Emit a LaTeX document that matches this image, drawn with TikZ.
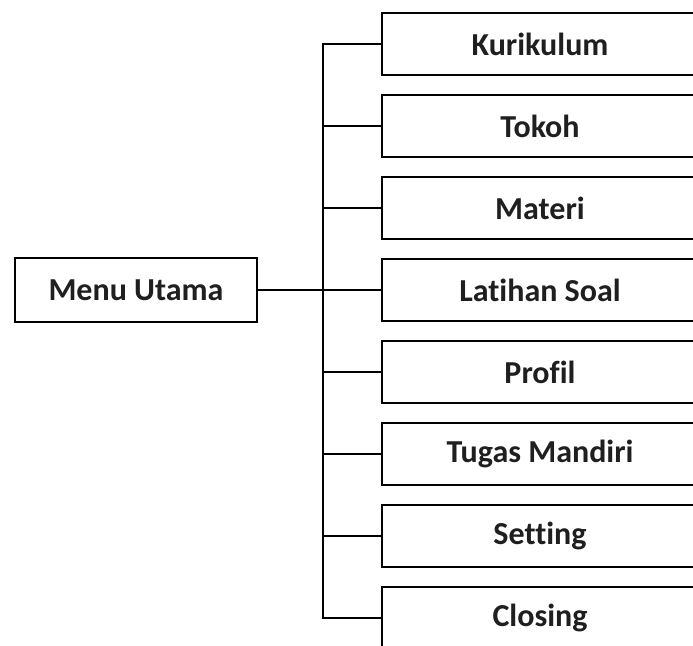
\documentclass[tikz,border=0pt]{standalone}
\usepackage{fontspec}
\setmainfont[Ligatures=NoCommon]{Carlito}
\tikzset{
  menubox/.style={draw, line width=1.8pt, minimum width=316pt, minimum height=62pt,
    inner sep=0pt, font=\fontsize{32}{38}\selectfont\bfseries, text=black!88},
  link/.style={line width=1.8pt}
}
\begin{document}
\begin{tikzpicture}[x=1pt, y=-1pt]
  \clip (0, 0) rectangle (693, 645);
  \fill[white] (0, 0) rectangle (693, 645);

  \node[menubox, minimum width=242pt, minimum height=64pt] (utama) at (136, 290) {Menu Utama};

  \node[menubox] (kurikulum) at (540, 44) {Kurikulum};
  \node[menubox] (tokoh) at (540, 126) {Tokoh};
  \node[menubox] (materi) at (540, 208) {Materi};
  \node[menubox] (latihan) at (540, 290) {Latihan Soal};
  \node[menubox] (profil) at (540, 372) {Profil};
  \node[menubox] (tugas) at (540, 454) {Tugas Mandiri};
  \node[menubox] (setting) at (540, 536) {Setting};
  \node[menubox] (closing) at (540, 618) {Closing};

  \coordinate (trunk) at (323, 290);

  \draw[link] (utama.east) -- (latihan.west);
  \draw[link] (kurikulum.west) -| (trunk) |- (closing.west);
  \foreach \b in {tokoh, materi, profil, tugas, setting}
    \draw[link] (\b.west) -- (\b.west -| trunk);
\end{tikzpicture}
\end{document}
